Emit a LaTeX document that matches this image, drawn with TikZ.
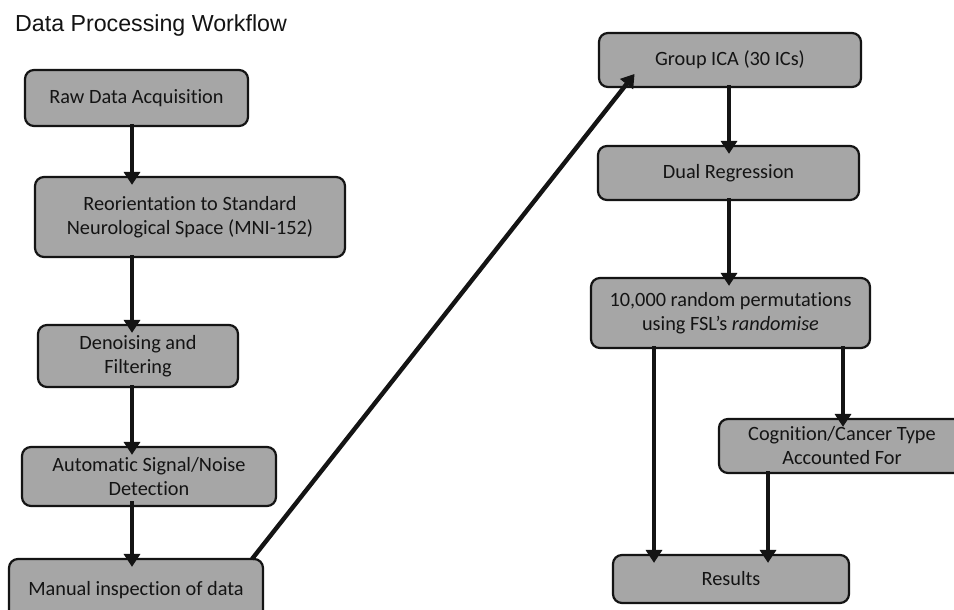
\documentclass[tikz,border=0pt]{standalone}
\usepackage{fontspec}
\setmainfont{Carlito}
\newfontfamily\titlefont{Liberation Sans}
\newfontfamily\boxfont{Carlito}[Ligatures=NoCommon]
\usetikzlibrary{arrows.meta}
\definecolor{boxgray}{RGB}{166,166,166}
\definecolor{inkk}{RGB}{20,20,20}
\tikzset{
  stepbox/.style={draw=inkk, line width=2.2pt, fill=boxgray, rounded corners=9pt,
    font=\boxfont\fontsize{20.3}{24}\selectfont, text=inkk, align=center, inner sep=0pt},
  flowarr/.style={draw=inkk, line width=4.4pt, -{Triangle[length=13pt,width=16pt]}, shorten >=-9pt}
}
\begin{document}
\begin{tikzpicture}[x=1pt,y=-1pt]
\useasboundingbox (0,0) rectangle (954,610);
\fill[white] (0,0) rectangle (954,610);
\node[anchor=base west, inner sep=0pt, font=\titlefont\fontsize{23.2}{27}\selectfont, text=inkk] (title) at (15,32) {Data Processing Workflow};

% left column
\node[stepbox, minimum width=223pt, minimum height=56pt] (raw) at (136.5,98) {Raw Data Acquisition};
\node[stepbox, minimum width=310pt, minimum height=80pt] (reo) at (190,217) {Reorientation to Standard\\Neurological Space (MNI-152)};
\node[stepbox, minimum width=200pt, minimum height=62pt] (den) at (138,356) {Denoising and\\Filtering};
\node[stepbox, minimum width=254pt, minimum height=59pt] (aut) at (149,476.5) {Automatic Signal/Noise\\Detection};
\node[stepbox, minimum width=254pt, minimum height=62pt] (man) at (136,590) {Manual inspection of data};

% right column
\node[stepbox, minimum width=262pt, minimum height=54pt] (ica) at (730,60) {Group ICA (30 ICs)};
\node[stepbox, minimum width=261pt, minimum height=54pt] (dual) at (728.5,173) {Dual Regression};
\node[stepbox, minimum width=279pt, minimum height=70pt] (perm) at (730.5,313) {10,000 random permutations\\using FSL’s \textit{randomise}};
\node[stepbox, minimum width=246pt, minimum height=54pt] (cog) at (842,446) {Cognition/Cancer Type\\Accounted For};
\node[stepbox, minimum width=236pt, minimum height=48pt] (res) at (731,579) {Results};

% helper coordinates
\coordinate (xl) at (132,0);
\coordinate (xr) at (729,0);
\coordinate (xa) at (654,0);
\coordinate (xb) at (843,0);
\coordinate (xc) at (768,0);
\coordinate (diagS) at (252,559);
\coordinate (diagE) at (629,81);

% connectors
\draw[flowarr] ([yshift=3pt]raw.south -| xl) -- (reo.north -| xl);
\draw[flowarr] ([yshift=3pt]reo.south -| xl) -- (den.north -| xl);
\draw[flowarr] ([yshift=3pt]den.south -| xl) -- (aut.north -| xl);
\draw[flowarr] ([yshift=6pt]aut.south -| xl) -- (man.north -| xl);
\draw[flowarr] (diagS) -- (diagE);
\draw[flowarr] ([yshift=3pt]ica.south -| xr) -- (dual.north -| xr);
\draw[flowarr] ([yshift=3pt]dual.south -| xr) -- (perm.north -| xr);
\draw[flowarr] ([yshift=3pt]perm.south -| xa) -- (res.north -| xa);
\draw[flowarr] ([yshift=3pt]perm.south -| xb) -- (cog.north -| xb);
\draw[flowarr] ([yshift=3pt]cog.south -| xc) -- (res.north -| xc);
\end{tikzpicture}
\end{document}
